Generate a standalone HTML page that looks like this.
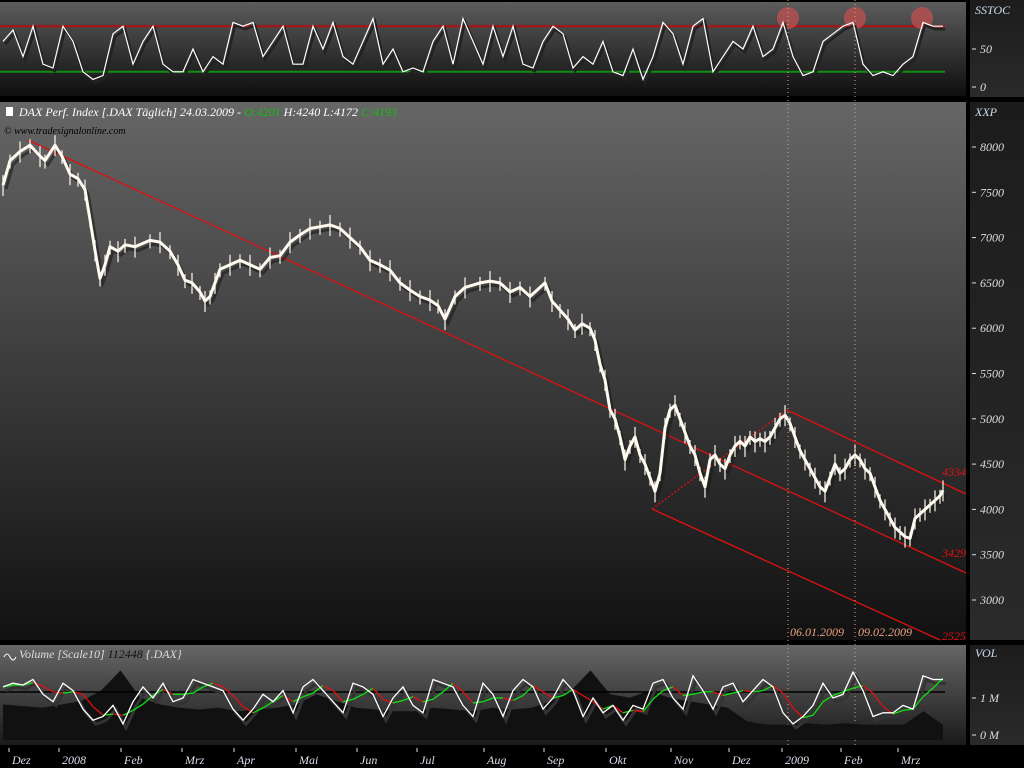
<!DOCTYPE html>
<html><head><meta charset="utf-8">
<style>
body{margin:0;background:#000;width:1024px;height:768px;overflow:hidden;font-family:"Liberation Serif",serif;}
svg{display:block}
text{font-style:italic}
</style></head>
<body>
<svg id="c" width="1024" height="768">
<defs>
<linearGradient id="gTop" x1="0" y1="0" x2="0" y2="1"><stop offset="0" stop-color="#5c5c5c"/><stop offset="1" stop-color="#0e0e0e"/></linearGradient>
<linearGradient id="gMain" x1="0" y1="0" x2="0" y2="1"><stop offset="0" stop-color="#666"/><stop offset="1" stop-color="#111"/></linearGradient>
<linearGradient id="gVol" x1="0" y1="0" x2="0" y2="1"><stop offset="0" stop-color="#666"/><stop offset="1" stop-color="#1a1a1a"/></linearGradient>
<linearGradient id="gAx" x1="0" y1="0" x2="0" y2="1"><stop offset="0" stop-color="#1c1c1c"/><stop offset="1" stop-color="#2a2a2a"/></linearGradient>
</defs>
<rect x="0" y="0" width="1024" height="768" fill="#000"/>
<rect x="0" y="2" width="966" height="94" fill="url(#gTop)"/>
<rect x="0" y="102" width="966" height="538" fill="url(#gMain)"/>
<rect x="0" y="645" width="966" height="100" fill="url(#gVol)"/>
<rect x="970" y="0" width="54" height="97" fill="url(#gAx)"/>
<rect x="970" y="102" width="54" height="538" fill="url(#gAx)"/>
<rect x="970" y="645" width="54" height="100" fill="url(#gAx)"/>
<g id="layer"></g>
</svg>
<script>
const priceX=[3,10,20,30,40,45,55,62,70,78,85,90,95,100,105,110,118,125,135,150,160,170,178,185,192,200,205,210,215,220,230,240,250,260,270,280,290,300,310,320,330,340,350,360,370,380,390,400,410,420,430,438,445,455,465,480,490,500,510,520,530,545,552,560,568,575,582,590,595,600,605,610,615,620,625,630,635,640,645,650,655,660,665,670,675,680,685,690,695,700,705,710,715,720,725,730,735,740,745,750,755,760,765,770,775,780,785,790,795,800,805,810,815,820,825,830,835,840,845,850,855,860,865,870,875,880,885,890,895,900,905,910,915,920,925,930,935,940,943];
const priceVals=[7580,7850,7950,8020,7900,7850,8020,7900,7700,7650,7530,7200,6860,6550,6700,6900,6850,6920,6900,6970,6950,6850,6700,6530,6500,6400,6300,6350,6500,6650,6700,6750,6700,6650,6780,6800,6950,7030,7100,7120,7140,7100,7000,6900,6750,6700,6640,6500,6420,6350,6310,6250,6100,6350,6450,6500,6520,6500,6400,6450,6350,6500,6300,6200,6100,5980,6050,6000,5870,5600,5430,5100,5000,4800,4550,4700,4800,4600,4500,4350,4200,4400,4900,5100,5150,5000,4850,4700,4600,4400,4250,4550,4600,4500,4450,4600,4700,4750,4700,4800,4750,4780,4750,4800,4900,5000,5040,4950,4800,4650,4550,4450,4350,4250,4200,4350,4500,4400,4450,4550,4600,4550,4450,4400,4250,4100,4000,3900,3800,3750,3700,3680,3900,3950,4000,4050,4100,4150,4210];
const stochVals=[60,75,40,80,30,25,80,60,20,10,15,70,80,30,60,80,30,20,20,50,20,40,30,85,80,85,40,60,80,30,30,80,50,85,40,30,60,90,30,50,20,25,20,60,80,30,90,60,30,80,40,80,30,25,60,80,70,25,40,30,60,20,15,50,10,40,85,70,30,80,90,20,40,60,50,80,40,50,85,40,15,20,60,70,80,85,30,15,20,15,30,40,85,80,80];
const oscVals=[1.3,1.4,1.35,1.5,1.1,0.9,1.4,1.2,0.7,0.4,0.5,0.8,0.3,0.9,1.3,1.0,1.4,0.9,1.0,1.5,1.4,1.3,1.2,0.7,0.4,0.7,1.1,0.9,1.2,0.6,1.3,1.5,1.2,0.9,0.6,1.4,1.3,1.1,0.5,1.0,1.3,0.8,0.6,1.5,1.4,1.3,0.8,0.5,1.4,1.1,0.5,1.2,1.5,1.3,0.7,1.0,1.5,1.2,0.5,1.0,0.6,0.8,0.4,0.8,0.7,1.4,1.5,1.0,0.7,1.6,1.2,0.7,1.3,1.4,0.9,1.2,1.5,1.3,0.6,0.3,0.5,0.8,1.4,1.0,1.1,1.7,1.2,0.5,0.6,0.6,0.8,0.7,1.6,1.5,1.5];
const volVals=[0.9,0.85,0.8,0.9,1.0,1.3,1.9,1.1,0.9,0.8,0.75,0.8,0.7,0.75,0.8,0.9,1.2,1.0,0.8,0.75,0.7,0.7,0.8,0.75,0.7,0.8,0.75,0.8,1.0,1.3,1.9,1.2,1.1,1.3,1.1,1.0,0.9,0.8,0.4,0.3,0.3,0.35,0.3,0.35,0.3,0.3,0.3,0.7,0.3];
const priceTicks=[8000,7500,7000,6500,6000,5500,5000,4500,4000,3500,3000];
const monthLabels=["Dez","2008","Feb","Mrz","Apr","Mai","Jun","Jul","Aug","Sep","Okt","Nov","Dez","2009","Feb","Mrz"];
const monthX=[10,60,122,183,235,297,358,418,485,545,607,672,730,783,842,899];

const NS="http://www.w3.org/2000/svg";
const L=document.getElementById('layer');
function mk(t,a,parent){const e=document.createElementNS(NS,t);for(const k in a)e.setAttribute(k,a[k]);(parent||L).appendChild(e);return e;}
const yP=p=>147+(8000-p)*0.0906;
const yS=s=>87-s*0.76;
const yO=v=>735-v*37;
const x0=3,x1=943;
const xS=i=>x0+i*(x1-x0)/(stochVals.length-1);
const xO=i=>x0+i*(x1-x0)/(oscVals.length-1);
const xV=i=>x0+i*(x1-x0)/(volVals.length-1);

let e;
e=mk('line',{x1:0,x2:945,y1:yS(80),y2:yS(80),stroke:'#b01010','stroke-width':2});

e=mk('line',{x1:0,x2:945,y1:yS(20),y2:yS(20),stroke:'#109010','stroke-width':2});

[788,855,922].forEach(cx=>{e=mk('circle',{cx:cx,cy:18,r:11,fill:'#c05050',opacity:0.75});
});
const sp=stochVals.map((v,i)=>xS(i).toFixed(1)+','+yS(v).toFixed(1)).join(' ');
mk('polyline',{points:sp,fill:'none',stroke:'#222','stroke-width':2.5,transform:'translate(2,3)'});
e=mk('polyline',{points:sp,fill:'none',stroke:'#fff','stroke-width':1.2});


function ln(a,b,c,d,name,dash){e=mk('line',{x1:a,y1:b,x2:c,y2:d,stroke:'#e01010','stroke-width':1.3,'stroke-dasharray':dash||''});
}
ln(28,140,966,573,'trend-line-long');
ln(787,410,966,494,'channel-upper');
ln(652,509,940,640,'channel-lower');
ln(652,509,787,410,'channel-connector','2,2');

const pp=priceVals.map((v,i)=>priceX[i]+','+yP(v).toFixed(1)).join(' ');
mk('polyline',{points:pp,fill:'none',stroke:'#1a1a1a','stroke-width':3,transform:'translate(3,4)',opacity:0.6});
e=mk('polyline',{points:pp,fill:'none',stroke:'#fffaf0','stroke-width':3,'stroke-linejoin':'round'});

priceVals.forEach((v,i)=>{e=mk('line',{x1:priceX[i],x2:priceX[i],y1:yP(v)-(i%2?6:10),y2:yP(v)+(i%2?8:11),stroke:'#fffaf0','stroke-width':1.2});
});

[788,855].forEach(x=>{e=mk('line',{x1:x,x2:x,y1:0,y2:745,stroke:'#e8a080','stroke-width':1,'stroke-dasharray':'1,3'});
});

function tx(x,y,s,fill,size,name,anchor){e=mk('text',{x:x,y:y,fill:fill,'font-size':size,'text-anchor':anchor||'start'});e.textContent=s;
return e;}
tx(790,636,'06.01.2009','#e8a080',12,'date-label-1');
tx(858,636,'09.02.2009','#e8a080',12,'date-label-2');
tx(966,476,'4334','#e01010',12,'channel-upper-value','end');
tx(966,557,'3429','#e01010',12,'channel-mid-value','end');
tx(966,640,'2525','#e01010',12,'channel-lower-value','end');
mk('rect',{x:6,y:107,width:7,height:9,fill:'#fff'});
e=tx(19,116,'','#fff',12,'price-title');
e.innerHTML='DAX Perf. Index [.DAX  Täglich] 24.03.2009 - <tspan fill="#10c010">O:4201</tspan> H:4240 L:4172 <tspan fill="#10c010">C:4193</tspan>';
tx(4,134,'© www.tradesignalonline.com','#000',10,'copyright');

priceTicks.forEach(p=>{const y=yP(p);mk('line',{x1:972,x2:976,y1:y,y2:y,stroke:'#ddd'});
tx(980,y+4,String(p),'#ddd',12,'price-tick');});
tx(975,116,'XXP','#cde',12,'price-axis-title');
tx(975,14,'SSTOC','#cde',12,'stoch-axis-title');
[[50,'50'],[0,'0']].forEach(([v,s])=>{const y=yS(v);mk('line',{x1:972,x2:976,y1:y,y2:y,stroke:'#ddd'});tx(980,y+4,s,'#ddd',12,'stoch-tick');});
tx(975,657,'VOL','#cde',12,'vol-axis-title');
[[1,'1 M',698],[0,'0 M',735]].forEach(([v,s,yy])=>{mk('line',{x1:972,x2:976,y1:yy,y2:yy,stroke:'#ddd'});tx(980,yy+4,s,'#ddd',12,'vol-tick');});

const vp='3,740 '+volVals.map((v,i)=>xV(i).toFixed(1)+','+(735-v*34).toFixed(1)).join(' ')+' 943,740';
e=mk('polygon',{points:vp,fill:'#111'});

e=mk('line',{x1:0,x2:945,y1:692,y2:692,stroke:'#000','stroke-width':1.5});

const op=oscVals.map((v,i)=>xO(i).toFixed(1)+','+yO(v).toFixed(1)).join(' ');
mk('polyline',{points:op,fill:'none',stroke:'#333','stroke-width':3,transform:'translate(3,4)'});
const sm=oscVals.map((v,i)=>{let s=0,n=0;for(let k=Math.max(0,i-2);k<=i;k++){s+=oscVals[k];n++;}return s/n;});
for(let i=1;i<sm.length;i++){e=mk('line',{x1:xO(i-1),y1:yO(sm[i-1]),x2:xO(i),y2:yO(sm[i]),stroke:sm[i]>=sm[i-1]?'#10e010':'#e01010','stroke-width':1.3});
}
e=mk('polyline',{points:op,fill:'none',stroke:'#fff','stroke-width':1.3});

mk('path',{d:'M4,657 q3,-6 6,0 q3,6 6,0',fill:'none',stroke:'#fff'});
e=tx(19,658,'','#ddd',12,'volume-title');
e.innerHTML='Volume [Scale10] <tspan fill="#111">112448</tspan> {.DAX}';

monthLabels.forEach((m,i)=>{mk('line',{x1:monthX[i]-1,x2:monthX[i]-1,y1:748,y2:752,stroke:'#ddd'});
tx(monthX[i]+2,764,m,'#dde',12,'month-label');});
</script>
</body></html>
